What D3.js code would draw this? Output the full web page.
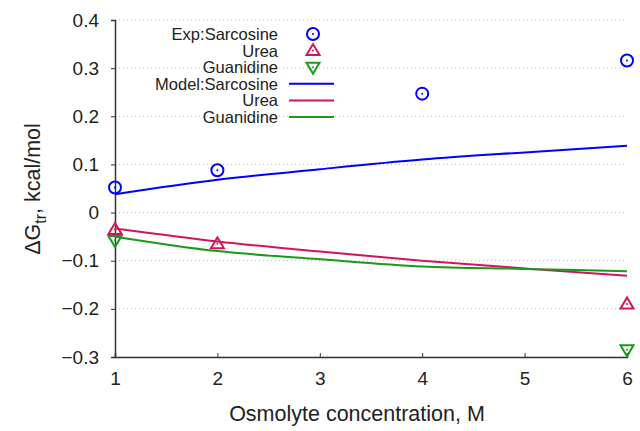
<!DOCTYPE html>
<html>
<head>
<meta charset="utf-8">
<script src="https://cdn.jsdelivr.net/npm/d3@7"></script>
<style>
  body { margin: 0; background: #fff; }
  text { font-family: "Liberation Sans", Arial, sans-serif; fill: #222; }
</style>
</head>
<body>
<svg id="chart" width="640" height="431"></svg>
<script>
// data
var expX = [1, 2, 4, 6];
var expSarcosine = [0.052, 0.088, 0.247, 0.316];
var expUreaX = [1, 2, 6];
var expUrea = [-0.035, -0.065, -0.19];
var expGuanX = [1, 6];
var expGuanidine = [-0.058, -0.285];

var modelX = [1, 2, 3, 4, 5, 6];
var modelSarcosine = [0.038, 0.068, 0.09, 0.11, 0.125, 0.139];
var modelUrea = [-0.033, -0.06, -0.081, -0.1, -0.116, -0.131];
var modelGuanidine = [-0.05, -0.08, -0.097, -0.112, -0.117, -0.122];

var xTicks = [1, 2, 3, 4, 5, 6];
var yTicks = [-0.3, -0.2, -0.1, 0, 0.1, 0.2, 0.3, 0.4];

var blue = "#0000ff", red = "#d4145a", green = "#1a9a1a";

var svg = d3.select("#chart");
var x = d3.scaleLinear().domain([1, 6]).range([115, 627]);
var y = d3.scaleLinear().domain([-0.3, 0.4]).range([357, 20]);

// grid
svg.append("g").selectAll("line").data(yTicks).enter().append("line")
	.attr("x1", 115).attr("x2", 627)
	.attr("y1", function(d) { return y(d); })
	.attr("y2", function(d) { return y(d); })
	.attr("stroke", "#bbb").attr("stroke-width", 1)
	.attr("stroke-dasharray", "1,3");

// axes
var fmt = function(d) { return d === 0 ? "0" : d3.format(".1f")(d).replace("-", "\u2212"); };
var yAxis = svg.append("g").attr("transform", "translate(115,0)")
	.call(d3.axisLeft(y).tickValues(yTicks).tickSize(4).tickPadding(12).tickFormat(fmt));
var xAxis = svg.append("g").attr("transform", "translate(0,357)")
	.call(d3.axisBottom(x).tickValues(xTicks).tickSize(-4).tickPadding(15).tickFormat(d3.format("d")));
[yAxis, xAxis].forEach(function(a) {
	a.select(".domain").attr("stroke", "#333").attr("stroke-width", 1.5);
	a.selectAll(".tick line").attr("stroke", "#333");
	a.selectAll("text").style("font-size", "19px").attr("fill", "#222")
		.style("font-family", "Liberation Sans, Arial, sans-serif");
});

// model lines
function line(vals) {
	return d3.line().x(function(d, i) { return x(modelX[i]); }).y(function(d) { return y(d); })
		.curve(d3.curveMonotoneX)(vals);
}
[[modelSarcosine, blue], [modelUrea, red], [modelGuanidine, green]].forEach(function(s) {
	svg.append("path").attr("d", line(s[0])).attr("fill", "none")
		.attr("stroke", s[1]).attr("stroke-width", 2);
});

// markers
function circle(g, cx, cy, c) {
	g.append("circle").attr("cx", cx).attr("cy", cy).attr("r", 6)
		.attr("fill", "none").attr("stroke", c).attr("stroke-width", 2);
	g.append("circle").attr("cx", cx).attr("cy", cy).attr("r", 1).attr("fill", c);
}
function tri(g, cx, cy, c, down) {
	var s = down ? -1 : 1;
	var p = [[cx - 6.5, cy + 4.5 * s], [cx + 6.5, cy + 4.5 * s], [cx, cy - 6.5 * s]];
	g.append("path").attr("d", "M" + p.join("L") + "Z")
		.attr("fill", "none").attr("stroke", c).attr("stroke-width", 2);
	g.append("circle").attr("cx", cx).attr("cy", cy).attr("r", 1).attr("fill", c);
}
var pts = svg.append("g");
expSarcosine.forEach(function(d, i) { circle(pts, x(expX[i]), y(d), blue); });
expUrea.forEach(function(d, i) { tri(pts, x(expUreaX[i]), y(d), red, false); });
expGuanidine.forEach(function(d, i) { tri(pts, x(expGuanX[i]), y(d), green, true); });

// legend
var labels = ["Exp:Sarcosine", "Urea", "Guanidine", "Model:Sarcosine", "Urea", "Guanidine"];
var leg = svg.append("g");
labels.forEach(function(t, i) {
	var ly = 34 + i * 16.6;
	leg.append("text").attr("x", 278).attr("y", ly + 6).attr("text-anchor", "end")
		.style("font-size", "16.5px").text(t);
	if (i === 0) circle(leg, 313, ly, blue);
	else if (i === 1) tri(leg, 313, ly, red, false);
	else if (i === 2) tri(leg, 313, ly, green, true);
	else {
		var c = [blue, red, green][i - 3];
		leg.append("line").attr("x1", 289).attr("x2", 334).attr("y1", ly).attr("y2", ly)
			.attr("stroke", c).attr("stroke-width", 2);
	}
});

// axis titles
svg.append("text").attr("x", 357).attr("y", 421).attr("text-anchor", "middle")
	.style("font-size", "21.5px").text("Osmolyte concentration, M");
var yt = svg.append("text").attr("transform", "translate(40,189) rotate(-90)")
	.attr("text-anchor", "middle").style("font-size", "21.5px");
yt.append("tspan").text("\u0394G");
yt.append("tspan").attr("dy", 6).style("font-size", "16px").text("tr");
yt.append("tspan").attr("dy", -6).text(", kcal/mol");
</script>
</body>
</html>
